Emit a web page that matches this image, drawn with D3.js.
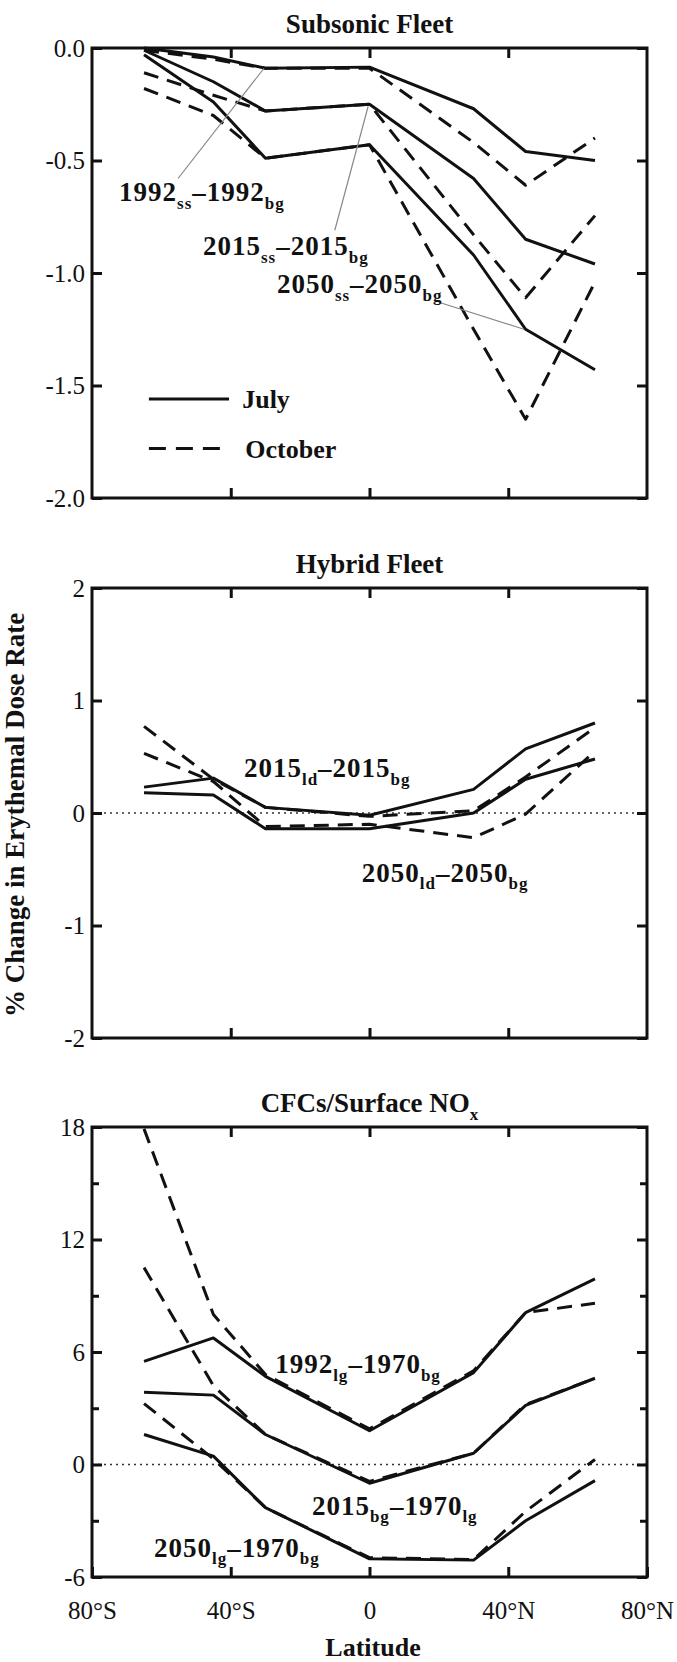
<!DOCTYPE html>
<html>
<head>
<meta charset="utf-8">
<script src="https://cdn.jsdelivr.net/npm/d3@7"></script>
<style>
  body { margin: 0; background: #fff; }
  svg { display: block; }
  text { font-family: "Liberation Serif", "Times New Roman", serif; fill: #111; }
</style>
</head>
<body>
<svg id="chart" width="677" height="1662"></svg>
<script>
// Latitude bands (degrees, negative = south)
const latitudes = [-65, -45, -30, 0, 30, 45, 65];

// Subsonic fleet: % change, July (solid) and October (dashed)
const subJuly1992 = [0.0, -0.04, -0.09, -0.085, -0.27, -0.46, -0.50];
const subOct1992  = [-0.01, -0.05, -0.09, -0.09, -0.42, -0.61, -0.40];
const subJuly2015 = [-0.01, -0.15, -0.28, -0.25, -0.58, -0.85, -0.96];
const subOct2015  = [-0.11, -0.21, -0.28, -0.25, -0.83, -1.11, -0.745];
const subJuly2050 = [-0.03, -0.24, -0.49, -0.43, -0.92, -1.25, -1.43];
const subOct2050  = [-0.18, -0.30, -0.49, -0.43, -1.25, -1.65, -1.04];

// Hybrid fleet
const hybJuly2015 = [0.23, 0.31, 0.05, -0.02, 0.21, 0.57, 0.80];
const hybOct2015  = [0.77, 0.30, 0.05, -0.03, 0.02, 0.32, 0.76];
const hybJuly2050 = [0.18, 0.16, -0.14, -0.14, 0.0, 0.30, 0.48];
const hybOct2050  = [0.53, 0.28, -0.12, -0.10, -0.22, -0.01, 0.55];

// CFCs / surface NOx
const cfcJuly1992 = [5.5, 6.75, 4.7, 1.8, 4.9, 8.1, 9.9];
const cfcOct1992  = [17.9, 8.0, 4.8, 1.9, 5.0, 8.1, 8.6];
const cfcJuly2015 = [3.85, 3.7, 1.6, -1.0, 0.6, 3.15, 4.6];
const cfcOct2015  = [10.5, 4.2, 1.6, -0.9, 0.6, 3.2, 4.6];
const cfcJuly2050 = [1.6, 0.45, -2.3, -5.03, -5.1, -3.0, -0.86];
const cfcOct2050  = [3.25, 0.3, -2.3, -4.97, -5.07, -2.5, 0.27];

// Axis ticks and labels
const latTicks = [-80, -40, 0, 40, 80];
const latTickLabels = ["80°S", "40°S", "0", "40°N", "80°N"];
const subTicks = [0, -0.5, -1.0, -1.5, -2.0];
const hybTicks = [2, 1, 0, -1, -2];
const cfcTicks = [18, 12, 6, 0, -6];
const cfcMinorTicks = [15, 9, 3, -3];

const svg = d3.select("#chart");
const left = 92, right = 647, panelH = 450;
const panelTops = [48, 588, 1127];

const x = d3.scaleLinear().domain([-80, 80]).range([left, right]);

// plain hyphen for negative tick values
const hyphen = f => d => f(d).replace("\u2212", "-");

const panels = [
  {
    title: [["Subsonic Fleet", null]],
    domain: [-2, 0], ticks: subTicks, minor: [], fmt: hyphen(d3.format(".1f")), zero: false,
    series: [
      [subJuly1992, false], [subOct1992, true],
      [subJuly2015, false], [subOct2015, true],
      [subJuly2050, false], [subOct2050, true]
    ],
    labels: [
      { at: [-72.2, -0.68], parts: [["1992", null], ["ss", "sub"], ["\u20131992", null], ["bg", "sub"]] },
      { at: [-48.0, -0.92], parts: [["2015", null], ["ss", "sub"], ["\u20132015", null], ["bg", "sub"]] },
      { at: [-26.7, -1.09], parts: [["2050", null], ["ss", "sub"], ["\u20132050", null], ["bg", "sub"]] }
    ],
    leaders: [
      [[-55.2, -0.58], [-30.4, -0.09]],
      [[-10.0, -0.81], [-0.4, -0.26]],
      [[20.0, -1.13], [44.5, -1.25]]
    ],
    legend: true
  },
  {
    title: [["Hybrid Fleet", null]],
    domain: [-2, 2], ticks: hybTicks, minor: [], fmt: hyphen(d3.format("d")), zero: true,
    series: [
      [hybJuly2015, false], [hybOct2015, true],
      [hybJuly2050, false], [hybOct2050, true]
    ],
    labels: [
      { at: [-36.2, 0.32], parts: [["2015", null], ["ld", "sub"], ["\u20132015", null], ["bg", "sub"]] },
      { at: [-2.2, -0.61], parts: [["2050", null], ["ld", "sub"], ["\u20132050", null], ["bg", "sub"]] }
    ],
    leaders: [],
    legend: false
  },
  {
    title: [["CFCs/Surface NO", null], ["x", "sub"]],
    domain: [-6, 18], ticks: cfcTicks, minor: cfcMinorTicks, fmt: hyphen(d3.format("d")), zero: true,
    series: [
      [cfcJuly1992, false], [cfcOct1992, true],
      [cfcJuly2015, false], [cfcOct2015, true],
      [cfcJuly2050, false], [cfcOct2050, true]
    ],
    labels: [
      { at: [-27.2, 4.88], parts: [["1992", null], ["lg", "sub"], ["\u20131970", null], ["bg", "sub"]] },
      { at: [-16.6, -2.67], parts: [["2015", null], ["bg", "sub"], ["\u20131970", null], ["lg", "sub"]] },
      { at: [-62.1, -4.93], parts: [["2050", null], ["lg", "sub"], ["\u20131970", null], ["bg", "sub"]] }
    ],
    leaders: [],
    legend: false,
    xLabels: true
  }
];

// text with subscript pieces
function richText(sel, parts, size, subSize) {
  parts.forEach(([str, kind], i) => {
    const prev = i > 0 ? parts[i - 1][1] : null;
    const t = sel.append("tspan").text(str);
    if (kind === "sub") {
      t.attr("font-size", subSize).attr("dy", size * 0.28);
    } else {
      t.attr("font-size", size);
      if (prev === "sub") t.attr("dy", -size * 0.28);
    }
  });
}

panels.forEach((p, i) => {
  const top = panelTops[i];
  const y = d3.scaleLinear().domain(p.domain).range([top + panelH, top]);
  const g = svg.append("g");

  // title
  const title = g.append("text")
    .attr("x", (left + right) / 2).attr("y", top - 15)
    .attr("text-anchor", "middle").attr("font-weight", "bold");
  richText(title, p.title, 27, 17);

  // zero reference
  if (p.zero) {
    g.append("line")
      .attr("x1", left).attr("x2", right)
      .attr("y1", y(0)).attr("y2", y(0))
      .attr("stroke", "#333").attr("stroke-width", 1.6)
      .attr("stroke-dasharray", "2,4");
  }

  // axes with inward ticks
  const styleAxis = sel => {
    sel.attr("font-family", null);
    sel.select(".domain").remove();
    sel.selectAll(".tick line").attr("stroke", "#111").attr("stroke-width", 3);
    sel.selectAll(".tick text").attr("font-size", 25).attr("fill", "#111");
  };
  g.append("g").attr("transform", `translate(${left},0)`)
    .call(d3.axisLeft(y).tickValues(p.ticks).tickFormat(p.fmt).tickSizeInner(-10).tickSizeOuter(0).tickPadding(7))
    .call(styleAxis);
  g.append("g").attr("transform", `translate(${right},0)`)
    .call(d3.axisRight(y).tickValues(p.ticks).tickFormat("").tickSizeInner(-10).tickSizeOuter(0))
    .call(styleAxis);
  if (p.minor.length) {
    g.append("g").attr("transform", `translate(${left},0)`)
      .call(d3.axisLeft(y).tickValues(p.minor).tickFormat("").tickSizeInner(-7).tickSizeOuter(0))
      .call(styleAxis);
    g.append("g").attr("transform", `translate(${right},0)`)
      .call(d3.axisRight(y).tickValues(p.minor).tickFormat("").tickSizeInner(-7).tickSizeOuter(0))
      .call(styleAxis);
  }
  g.append("g").attr("transform", `translate(0,${top})`)
    .call(d3.axisTop(x).tickValues([-40, 0, 40]).tickFormat("").tickSizeInner(-10).tickSizeOuter(0))
    .call(styleAxis);
  const bottomAxis = g.append("g").attr("transform", `translate(0,${top + panelH})`)
    .call(d3.axisBottom(x).tickValues(p.xLabels ? latTicks : [-40, 0, 40])
      .tickFormat(p.xLabels ? (d, k) => latTickLabels[k] : "")
      .tickSizeInner(-10).tickSizeOuter(0))
    .call(styleAxis);
  if (p.xLabels) {
    bottomAxis.selectAll(".tick text").attr("dy", null).attr("y", 42);
  }

  // frame
  g.append("rect")
    .attr("x", left).attr("y", top).attr("width", right - left).attr("height", panelH)
    .attr("fill", "none").attr("stroke", "#111").attr("stroke-width", 3);

  // data lines
  const line = d3.line().x((d, k) => x(latitudes[k])).y(d => y(d));
  p.series.forEach(([vals, dashed]) => {
    g.append("path")
      .attr("d", line(vals))
      .attr("fill", "none").attr("stroke", "#111")
      .attr("stroke-width", 3)
      .attr("stroke-linejoin", "round")
      .attr("stroke-dasharray", dashed ? "15,9" : null);
  });

  // leader lines
  p.leaders.forEach(([a, b]) => {
    g.append("line")
      .attr("x1", x(a[0])).attr("y1", y(a[1]))
      .attr("x2", x(b[0])).attr("y2", y(b[1]))
      .attr("stroke", "#888").attr("stroke-width", 1.2);
  });

  // curve labels
  p.labels.forEach(l => {
    const t = g.append("text")
      .attr("x", x(l.at[0])).attr("y", y(l.at[1]))
      .attr("font-weight", "bold")
      .attr("letter-spacing", 1);
    richText(t, l.parts, 27, 17);
  });

  // legend
  if (p.legend) {
    const items = [["July", false, -1.56], ["October", true, -1.78]];
    items.forEach(([name, dashed, v]) => {
      g.append("line")
        .attr("x1", x(-63.6)).attr("x2", x(dashed ? -42.5 : -40.5))
        .attr("y1", y(v)).attr("y2", y(v))
        .attr("stroke", "#111").attr("stroke-width", 3)
        .attr("stroke-dasharray", dashed ? "17,10" : null);
      g.append("text")
        .attr("x", x(dashed ? -35.8 : -36.7)).attr("y", y(v) + 9)
        .attr("font-size", 26).attr("font-weight", "bold")
        .text(name);
    });
  }
});

// shared axis titles
svg.append("text")
  .attr("transform", `translate(24,815) rotate(-90)`)
  .attr("text-anchor", "middle").attr("font-size", 27).attr("font-weight", "bold")
  .text("% Change in Erythemal Dose Rate");

svg.append("text")
  .attr("x", 373).attr("y", 1656)
  .attr("text-anchor", "middle").attr("font-size", 26).attr("font-weight", "bold")
  .text("Latitude");
</script>
</body>
</html>
